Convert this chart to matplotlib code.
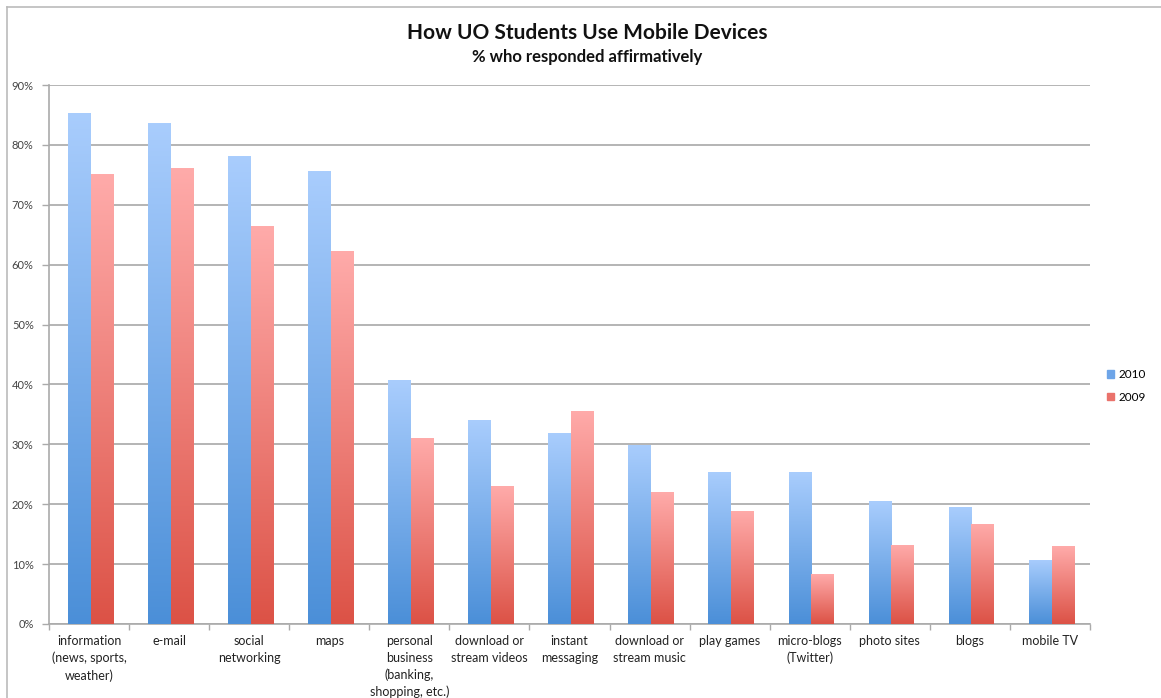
import numpy as np
import matplotlib
matplotlib.use("Agg")
from matplotlib import pyplot as plt
from matplotlib.patches import Patch
from matplotlib.colors import LinearSegmentedColormap
from matplotlib.lines import Line2D

plt.rcParams['font.family'] = ['Lato', 'DejaVu Sans']

categories = [
    "information\n(news, sports,\nweather)", "e-mail", "social\nnetworking", "maps",
    "personal\nbusiness\n(banking,\nshopping, etc.)", "download or\nstream videos",
    "instant\nmessaging", "download or\nstream music", "play games",
    "micro-blogs\n(Twitter)", "photo sites", "blogs", "mobile TV",
]
pct_2010 = [85.4, 83.6, 78.1, 75.6, 40.7, 34.1, 31.9, 29.9, 25.4, 25.3, 20.5, 19.5, 10.7]
pct_2009 = [75.1, 76.1, 66.4, 62.3, 31.1, 23.0, 35.6, 22.0, 18.9, 8.3, 13.2, 16.7, 13.0]
yticks = [0, 10, 20, 30, 40, 50, 60, 70, 80, 90]

blue_map = LinearSegmentedColormap.from_list("b", ["#4b8fd8", "#a9cdfd"])
red_map = LinearSegmentedColormap.from_list("r", ["#dc5246", "#ffabaa"])

fig = plt.figure(figsize=(11.61, 6.98), dpi=100)
ax = fig.add_axes([49 / 1161, 74 / 698, 1041 / 1161, 539 / 698])

x = np.arange(len(categories))
w = 0.285
bars_a = ax.bar(x - w / 2 + 0.02, pct_2010, w, color="none", zorder=3)
bars_b = ax.bar(x + w / 2 + 0.02, pct_2009, w, color="none", zorder=3)

grad = np.linspace(0, 1, 256).reshape(-1, 1)


def fill_gradient(bars, cmap):
    for r in bars:
        x0, y0 = r.get_x(), r.get_y()
        im = ax.imshow(grad, cmap=cmap, origin="lower", aspect="auto",
                       extent=[x0, x0 + r.get_width(), y0, y0 + r.get_height()],
                       zorder=3, interpolation="bilinear")
        im.set_clip_path(r)


fill_gradient(bars_a, blue_map)
fill_gradient(bars_b, red_map)

ax.set_xlim(-0.5, len(categories) - 0.5)
ax.set_ylim(0, 90)
ax.set_yticks(yticks)
ax.set_yticklabels([f"{t}%" for t in yticks], fontsize=8, color="#444444")
ax.set_xticks(x)
ax.set_xticklabels(categories, fontsize=9, color="#222222", linespacing=1.45, va="top")
ax.tick_params(axis="x", length=0, pad=8)
ax.set_xticks(np.arange(-0.5, len(categories)), minor=True)
ax.tick_params(axis="x", which="minor", length=4, color="#aaaaaa", width=1)
ax.tick_params(axis="y", length=5, color="#aaaaaa", width=1, pad=6)
ax.grid(axis="y", color="#a8a8a8", linewidth=1.2, zorder=0)
ax.set_axisbelow(True)
for s in ["top", "right"]:
    ax.spines[s].set_visible(False)
for s in ["left", "bottom"]:
    ax.spines[s].set_color("#aaaaaa")
    ax.spines[s].set_linewidth(1.2)

handles = [Patch(color="#6ea5e8", label="2010"), Patch(color="#ea726b", label="2009")]
fig.legend(handles=handles, loc="center left", bbox_to_anchor=(1096 / 1161, 1 - 386 / 698),
           frameon=False, fontsize=8.5, handlelength=0.6, handleheight=0.6,
           handletextpad=0.4, labelspacing=1.0)

fig.text(587 / 1161, 1 - 33 / 698, "How UO Students Use Mobile Devices",
         ha="center", va="center", fontsize=15, fontweight="bold", color="#111111")
fig.text(587 / 1161, 1 - 57 / 698, "% who responded affirmatively",
         ha="center", va="center", fontsize=12, fontweight="bold", color="#111111")

# chart frame (left and top edges visible in the screenshot)
fig.add_artist(Line2D([7 / 1161, 7 / 1161], [0, 1 - 7 / 698], color="#bbbbbb", lw=1.2))
fig.add_artist(Line2D([7 / 1161, 1], [1 - 7 / 698, 1 - 7 / 698], color="#bbbbbb", lw=1.2))

fig.savefig("out.png", dpi=100)
